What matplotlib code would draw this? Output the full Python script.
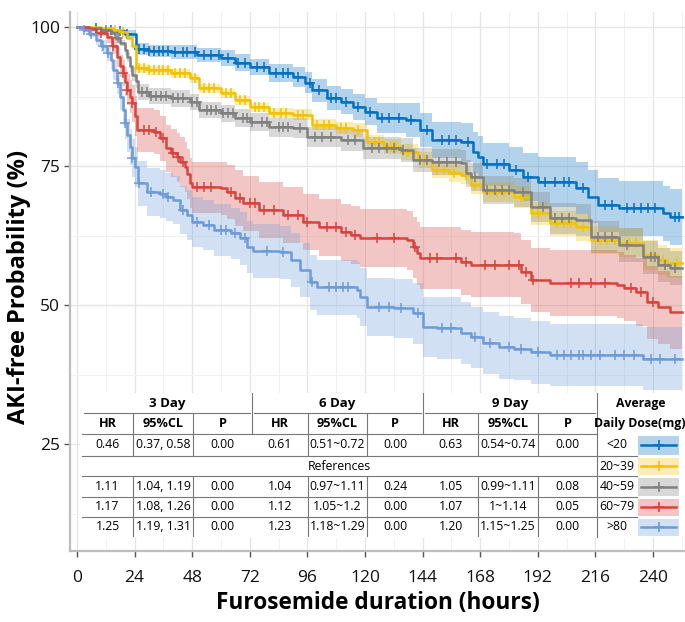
import matplotlib
matplotlib.use("Agg")
import matplotlib.pyplot as plt
from matplotlib.patches import Rectangle
from matplotlib.ticker import MultipleLocator
import numpy as np

plt.rcParams['font.family'] = ['Open Sans', 'DejaVu Sans']

groups = ["<20", "20~39", "40~59", "60~79", ">80"]
colors = ["#0070C0", "#F2C200", "#808080", "#D6453D", "#6C9BD8"]
t_end = 252

# step curves: time (h), survival (%), CI half width, censor times
t_lt20 = [0, 5, 10, 15, 20, 24.5, 30, 39, 50, 60, 66, 72, 80, 90, 95, 98, 104, 110, 115, 120,
          125, 137, 143, 148, 160, 165, 167, 169, 180, 186, 192, 208, 213, 217, 226, 244, 247]
s_lt20 = [100, 99.8, 99.5, 99.2, 98.8, 96.0, 95.7, 95.5, 95.0, 94.4, 93.6, 92.8, 91.7, 91.0, 90.0,
          88.6, 87.2, 86.6, 85.6, 84.8, 83.6, 83.3, 81.5, 79.7, 79.3, 77.5, 76.6, 75.3, 74.3, 73.0,
          72.1, 71.0, 69.5, 68.0, 67.4, 66.5, 65.8]
w_lt20 = [0, 0.2, 0.3, 0.5, 0.7, 1.1, 1.1, 1.2, 1.3, 1.4, 1.5, 1.5, 1.6, 1.8, 1.9, 2.0, 2.2, 2.3,
          2.4, 2.5, 2.7, 3.0, 3.1, 3.3, 3.5, 3.7, 3.8, 3.9, 4.1, 4.3, 4.5, 4.7, 4.8, 4.9, 5.0, 5.0, 5.0]
c_lt20 = [8, 14, 18, 21, 26, 28, 30, 32, 34, 36, 38, 41, 44, 46, 49, 53, 56, 59, 63, 67, 70, 75,
          78, 83, 86, 88, 92, 97, 101, 106, 108, 112, 117, 122, 127, 130, 134, 139, 146, 152, 155,
          158, 163, 171, 175, 178, 183, 188, 195, 199, 203, 205, 211, 220, 223, 229, 232, 235, 238,
          241, 249, 251]

t_20 = [0, 10, 15, 18, 21, 23, 24.5, 30, 39, 47, 51, 60, 66, 72, 80, 90, 98, 108, 115, 121, 128,
        135, 142, 148, 155, 160, 164, 169, 182, 189, 197, 208, 214, 226, 236, 242, 246]
s_20 = [100, 99.8, 99.4, 99.1, 98.0, 96.6, 92.6, 92.2, 91.7, 90.8, 89.0, 88.1, 86.8, 85.6, 84.5,
        84.2, 82.4, 81.9, 81.5, 79.3, 78.5, 77.5, 76.1, 74.3, 73.8, 73.4, 71.6, 70.3, 69.4, 66.5,
        64.7, 64.0, 61.7, 61.2, 59.0, 58.2, 57.6]
w_20 = [0, 0.1, 0.2, 0.3, 0.4, 0.6, 0.8, 0.8, 0.8, 0.8, 0.8, 0.8, 0.8, 0.8, 0.9, 1.0, 1.0, 1.1,
        1.2, 1.2, 1.3, 1.4, 1.4, 1.5, 1.6, 1.7, 1.7, 1.8, 2.0, 2.1, 2.3, 2.4, 2.5, 2.6, 2.7, 2.7, 2.7]
c_20 = [16, 19, 26, 28, 30, 32, 34, 36, 38, 41, 43, 45, 49, 53, 55, 57, 62, 64, 68, 70, 74, 76,
        78, 82, 85, 87, 92, 94, 100, 103, 105, 110, 112, 117, 124, 126, 131, 133, 138, 145, 150,
        153, 157, 162, 166, 172, 175, 178, 185, 192, 200, 203, 206, 211, 218, 221, 224, 230, 233,
        239, 244, 250]

t_40 = [0, 5, 10, 14, 16, 18, 20, 21, 22, 23, 24.5, 25.5, 30, 39, 47, 51, 60, 66, 72, 80, 90, 96,
        110, 119, 135, 140, 148, 160, 162, 164, 169, 182, 189, 197, 208, 214, 226, 236, 242, 247]
s_40 = [100, 99.8, 99.5, 98.9, 98.0, 97.1, 95.8, 94.6, 93.0, 91.4, 90.3, 88.3, 87.6, 87.2, 86.5,
        85.1, 84.5, 83.7, 82.9, 82.0, 81.8, 80.2, 79.7, 78.2, 77.9, 76.1, 75.7, 75.5, 73.7, 73.0,
        70.7, 70.3, 67.6, 65.6, 65.3, 62.2, 60.8, 58.6, 57.2, 56.7]
w_40 = [0, 0.2, 0.3, 0.4, 0.5, 0.6, 0.8, 0.9, 1.0, 1.1, 1.3, 1.5, 1.5, 1.5, 1.5, 1.5, 1.5, 1.6,
        1.6, 1.7, 1.8, 1.8, 1.9, 2.0, 2.1, 2.2, 2.3, 2.4, 2.4, 2.5, 2.5, 2.6, 2.7, 2.8, 2.8, 2.9,
        3.0, 3.0, 3.0, 3.0]
c_40 = [12, 17, 27, 29, 31, 33, 35, 37, 40, 42, 44, 48, 50, 54, 56, 58, 61, 63, 65, 69, 71, 73,
        77, 79, 84, 86, 88, 93, 99, 102, 106, 113, 116, 123, 126, 129, 132, 136, 143, 146, 151,
        154, 158, 166, 171, 174, 177, 180, 186, 194, 199, 202, 205, 217, 220, 223, 229, 239, 241,
        245, 249]

t_60 = [0, 5, 8, 12.5, 14.5, 16.5, 18, 19, 20, 21, 22, 23, 24, 25, 32, 34.5, 37, 39, 41.5, 43,
        45, 46, 47, 48, 60, 62.5, 66, 69, 76, 86, 94, 101, 110, 114, 118, 137.5, 140, 141.5, 143,
        160, 164, 182, 185, 189, 197, 225, 228, 233, 237.5, 242, 247]
s_60 = [100, 99.6, 98.9, 98.2, 96.5, 94.6, 93.0, 91.7, 90.2, 88.7, 87.5, 86.3, 84.0, 81.5, 81.1,
        80.0, 78.2, 77.4, 76.6, 75.8, 74.8, 73.5, 71.9, 71.2, 71.0, 70.3, 69.3, 68.3, 67.1, 66.2,
        65.0, 64.0, 63.1, 62.6, 62.0, 61.7, 60.4, 59.3, 58.5, 57.7, 57.3, 57.2, 56.0, 54.5, 54.0,
        53.6, 53.1, 52.3, 50.5, 49.6, 48.7]
w_60 = [0, 0.3, 0.5, 1.0, 1.4, 1.8, 2.0, 2.3, 2.6, 2.8, 3.0, 3.3, 3.6, 3.9, 3.9, 4.0, 4.2, 4.3,
        4.4, 4.5, 4.5, 4.5, 4.5, 4.6, 4.8, 4.9, 5.0, 5.0, 5.0, 5.0, 5.0, 5.1, 5.1, 5.2, 5.2, 5.3,
        5.5, 5.6, 5.6, 5.8, 5.8, 5.8, 5.8, 5.8, 5.9, 6.0, 6.0, 6.1, 6.5, 6.5, 6.5]
c_60 = [10, 15, 19, 21, 23, 28, 30, 33, 36, 40, 42, 44, 50, 53, 56, 64, 68, 72, 74, 78, 82, 88,
        92, 96, 104, 108, 112, 116, 125, 132, 141, 147, 150, 158, 162, 170, 174, 180, 184, 187,
        190, 206, 209, 214, 220, 231, 235, 240]

t_80 = [0, 2.5, 5, 8, 10, 12.5, 14, 15, 16.5, 18, 19, 20, 21, 22, 23, 24, 25.5, 29, 34.5, 37, 40,
        43, 46, 48, 52.5, 57, 64, 68, 71, 73.5, 84.5, 89, 93, 97, 100, 116.5, 118, 121, 132, 140,
        144, 150, 160, 164, 169, 176, 182, 189, 197, 236]
s_80 = [100, 99.5, 98.8, 97.7, 96.6, 95.3, 94.0, 92.3, 90.0, 87.4, 85.0, 82.7, 80.5, 78.4, 76.5,
        74.8, 71.9, 70.3, 70.0, 69.4, 68.9, 67.1, 66.2, 65.0, 64.4, 63.5, 62.9, 62.0, 60.4, 59.7,
        59.5, 58.1, 56.3, 54.1, 53.2, 52.7, 51.4, 49.6, 49.4, 48.5, 46.0, 45.9, 45.0, 44.2, 43.2,
        42.4, 42.1, 41.5, 41.0, 40.4]
w_80 = [0, 0.3, 0.6, 0.9, 1.1, 1.4, 1.6, 1.8, 2.1, 2.4, 2.6, 2.8, 3.0, 3.2, 3.4, 3.6, 4.0, 4.3,
        4.3, 4.3, 4.4, 4.4, 4.5, 4.5, 4.5, 4.6, 4.6, 4.7, 4.7, 4.8, 4.8, 4.9, 4.9, 5.0, 5.0, 5.1,
        5.2, 5.2, 5.3, 5.4, 5.4, 5.5, 5.5, 5.5, 5.5, 5.6, 5.6, 5.6, 5.6, 5.6]
c_80 = [3, 6, 11, 13, 17, 20, 23, 26, 31, 36, 38, 44, 50, 55, 60, 62, 66, 70, 79, 86, 98, 105,
        108, 111, 113, 126, 130, 135, 142, 152, 156, 166, 172, 180, 185, 192, 200, 203, 206, 209,
        211, 214, 218, 224, 228, 232, 239, 243, 249]

curves = [(t_lt20, s_lt20, w_lt20, c_lt20), (t_20, s_20, w_20, c_20), (t_40, s_40, w_40, c_40),
          (t_60, s_60, w_60, c_60), (t_80, s_80, w_80, c_80)]

# table values, one entry per dose group (None = reference group)
day3_hr = ["0.46", None, "1.11", "1.17", "1.25"]
day3_ci = ["0.37, 0.58", None, "1.04, 1.19", "1.08, 1.26", "1.19, 1.31"]
day3_p = ["0.00", None, "0.00", "0.00", "0.00"]
day6_hr = ["0.61", None, "1.04", "1.12", "1.23"]
day6_ci = ["0.51~0.72", None, "0.97~1.11", "1.05~1.2", "1.18~1.29"]
day6_p = ["0.00", None, "0.24", "0.00", "0.00"]
day9_hr = ["0.63", None, "1.05", "1.07", "1.20"]
day9_ci = ["0.54~0.74", None, "0.99~1.11", "1~1.14", "1.15~1.25"]
day9_p = ["0.00", None, "0.08", "0.05", "0.00"]
day_titles = ["3 Day", "6 Day", "9 Day"]
sub_titles = ["HR", "95%CL", "P"]

fig = plt.figure(figsize=(6.85, 6.22), dpi=100)
ax = fig.add_axes([70 / 685, 1 - 551 / 622, 615 / 685, 539 / 622])

for (t, s, w, c), col in zip(curves, colors):
    t = np.append(t, t_end)
    s = np.append(s, s[-1])
    w = np.append(w, w[-1])
    ax.fill_between(t, s - w, s + w, step='post', color=col, alpha=0.3, lw=0, zorder=1)

for (t, s, w, c), col in zip(curves, colors):
    t = np.append(t, t_end)
    s = np.append(s, s[-1])
    ax.step(t, s, where='post', color=col, lw=1.8, zorder=3)
    idx = np.searchsorted(t, c, side='right') - 1
    ax.plot(c, s[idx], '+', color=col, ms=7, mew=1.1, zorder=3)

ax.set_xlim(-2.9, 253.3)
ax.set_ylim(5.8, 102.7)
ax.xaxis.set_major_locator(MultipleLocator(24))
ax.xaxis.set_minor_locator(MultipleLocator(12))
ax.set_yticks([25, 50, 75, 100])
ax.yaxis.set_minor_locator(MultipleLocator(12.5))
ax.grid(which='major', color='#E4E4E4', lw=0.9)
ax.grid(which='minor', color='#F0F0F0', lw=0.7)
ax.set_axisbelow(True)
for sp in ['top', 'right']:
    ax.spines[sp].set_visible(False)
for sp in ['left', 'bottom']:
    ax.spines[sp].set_color('#BDBDBD')
    ax.spines[sp].set_linewidth(1.6)
ax.tick_params(which='major', length=4, width=1, color='#555555', labelsize=12.5,
               labelcolor='#111111')
ax.tick_params(axis='x', which='major', pad=10)
ax.tick_params(axis='y', which='major', pad=3)
ax.tick_params(which='minor', length=0)
ax.set_xlabel("Furosemide duration (hours)", fontsize=16.3, fontweight='bold', labelpad=3)
ax.set_ylabel("AKI-free Probability (%)", fontsize=17, fontweight='bold')
ax.yaxis.set_label_coords(-0.064, 0.49)

# embedded table, laid out in pixel units
tab = fig.add_axes([80 / 685, 1 - 538 / 622, 605 / 685, 145 / 622], zorder=5)
tab.set_xlim(80, 685)
tab.set_ylim(538, 393)
tab.set_xticks([])
tab.set_yticks([])
for sp in tab.spines.values():
    sp.set_visible(False)
tab.patch.set_facecolor('white')

lc = '#777777'
lw = 0.8
col_edges = [82, 133, 193, 252, 308, 367, 423, 478, 538, 597]
row_edges = [393, 413, 434, 456, 476, 497, 517, 537]
fs = 8.8

for g in range(3):
    x0, x1 = col_edges[3 * g], col_edges[3 * g + 3]
    tab.text((x0 + x1) / 2, (row_edges[0] + row_edges[1]) / 2 + 1, day_titles[g],
             ha='center', va='center', fontsize=9.5, fontweight='bold')
    tab.plot([x0 + 2, x1 - 2], [row_edges[1]] * 2, color=lc, lw=lw)
    for k in range(3):
        xa, xb = col_edges[3 * g + k], col_edges[3 * g + k + 1]
        tab.text((xa + xb) / 2, (row_edges[1] + row_edges[2]) / 2, sub_titles[k],
                 ha='center', va='center', fontsize=fs + 0.3, fontweight='bold')
tab.text(641, (row_edges[0] + row_edges[1]) / 2 + 1, "Average", ha='center', va='center',
         fontsize=fs, fontweight='bold')
tab.text(640, (row_edges[1] + row_edges[2]) / 2, "Daily Dose(mg)", ha='center', va='center',
         fontsize=fs, fontweight='bold')

for x in [252, 423]:
    tab.plot([x, x], [row_edges[0], row_edges[2]], color=lc, lw=lw)
for x in [133, 193, 308, 367, 478, 538]:
    tab.plot([x, x], [row_edges[1], row_edges[2]], color=lc, lw=lw)
tab.plot([597, 597], [row_edges[0], row_edges[-1]], color=lc, lw=lw)
tab.plot([82, 597], [row_edges[2]] * 2, color=lc, lw=lw)
for y in row_edges[3:7]:
    tab.plot([82, 637], [y, y], color=lc, lw=lw)

cols = [day3_hr, day3_ci, day3_p, day6_hr, day6_ci, day6_p, day9_hr, day9_ci, day9_p]
for r in range(len(groups)):
    y0, y1 = row_edges[r + 2], row_edges[r + 3]
    yc = (y0 + y1) / 2
    if day3_hr[r] is None:
        tab.text((82 + 597) / 2, yc, "References", ha='center', va='center', fontsize=fs)
    else:
        for k, vals in enumerate(cols):
            xa, xb = col_edges[k], col_edges[k + 1]
            tab.text((xa + xb) / 2, yc, vals[r], ha='center', va='center', fontsize=fs)
        for x in [133, 193, 308, 367, 478, 538]:
            tab.plot([x, x], [y0 + 1, y1 - 1], color=lc, lw=lw)
    tab.text(617, yc, groups[r], ha='center', va='center', fontsize=fs)
    tab.add_patch(Rectangle((638, y0 + 1.5), 41, (y1 - y0) - 3, facecolor=colors[r],
                            alpha=0.3, lw=0))
    tab.plot([641, 676], [yc, yc], color=colors[r], lw=1.8)
    tab.plot([658.5], [yc], '+', color=colors[r], ms=7, mew=1.2)

fig.savefig("out.png", dpi=100)
